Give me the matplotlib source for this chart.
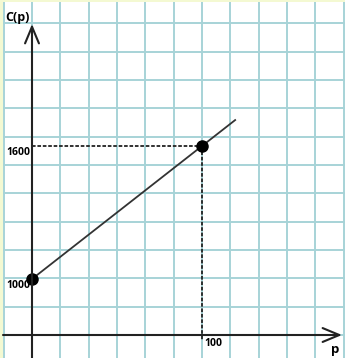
import numpy as np
import matplotlib.pyplot as plt

# data: C(p) = 1000 + 6p, two marked points
p_pts = [0, 100]
c_pts = [1000, 1600]
p_line = [0, 119.5]
c_line = [1000 + 6 * p for p in p_line]
p_tick = 100
c_ticks = [1000, 1600]

# pixel layout of the sketch
sx = 170 / 100.0          # px per unit of p
sy = 133 / 600.0          # px per unit of C
cell = 28.33              # grid cell, px
x0px, y1000px = 32, 279   # where p=0 / C=1000 sit
axis_py = 335             # pixel row of the p axis

c_axis = 1000 - (axis_py - y1000px) / sy

plt.rcParams['font.family'] = ['Open Sans', 'DejaVu Sans']
fig = plt.figure(figsize=(3.45, 3.58), dpi=100, facecolor='#f4f9d2')
ax = fig.add_axes([3 / 345, 0, 342 / 345, 356 / 358])
ax.set_facecolor('white')

xmin, xmax = (3 - x0px) / sx, (345 - x0px) / sx
ymin, ymax = 1000 - (358 - y1000px) / sy, 1000 + (y1000px - 2) / sy

# grid cells (ticks first, set_ticks would widen the limits)
gx, gy = cell / sx, cell / sy
ax.set_xticks(np.arange(-gx, xmax + gx, gx))
ax.set_yticks(c_axis + gy * np.arange(-3, 13))
ax.set_xlim(xmin, xmax)
ax.set_ylim(ymin, ymax)
ax.grid(True, color='#a7d3d7', linewidth=1.4)
ax.tick_params(length=0, labelbottom=False, labelleft=False)
for s in ax.spines.values():
    s.set_visible(False)

# axes with open arrow heads
arr = dict(arrowstyle='->, head_length=1.2, head_width=0.5', color='#222222',
           lw=1.5, shrinkA=0, shrinkB=0)
ax.annotate('', xy=(0, 1000 + (y1000px - 24) / sy), xytext=(0, ymin), arrowprops=arr)
ax.annotate('', xy=((342 - x0px) / sx, c_axis), xytext=(xmin, c_axis), arrowprops=arr)

# dashed guides
ax.plot([0, p_pts[1]], [c_pts[1], c_pts[1]], color='#222222', lw=1.3,
        linestyle=(0, (2, 1)))
ax.plot([p_pts[1], p_pts[1]], [c_pts[1], c_axis - 5 / sy], color='#222222', lw=1.3,
        linestyle=(0, (2, 1)))

ax.plot(p_line, c_line, color='#333333', lw=1.3)
ax.plot(p_pts, c_pts, 'o', color='black', markersize=8)

for c in c_ticks:
    ax.annotate(str(c), xy=(0, c), xytext=(-2, -7), textcoords='offset pixels',
                ha='right', va='center', fontsize=7.5, fontweight='bold')
ax.annotate(str(p_tick), xy=(p_tick, c_axis), xytext=(2, -8), textcoords='offset pixels',
            ha='left', va='center', fontsize=7.5, fontweight='bold')
ax.annotate('C(p)', xy=(0, ymax), xytext=(-27, -15), textcoords='offset pixels',
            ha='left', va='center', fontsize=9, fontweight='bold')
ax.annotate('p', xy=(xmax, c_axis), xytext=(-10, -15), textcoords='offset pixels',
            ha='center', va='center', fontsize=9.5, fontweight='bold')

fig.savefig('out.png', dpi=100, facecolor=fig.get_facecolor())
